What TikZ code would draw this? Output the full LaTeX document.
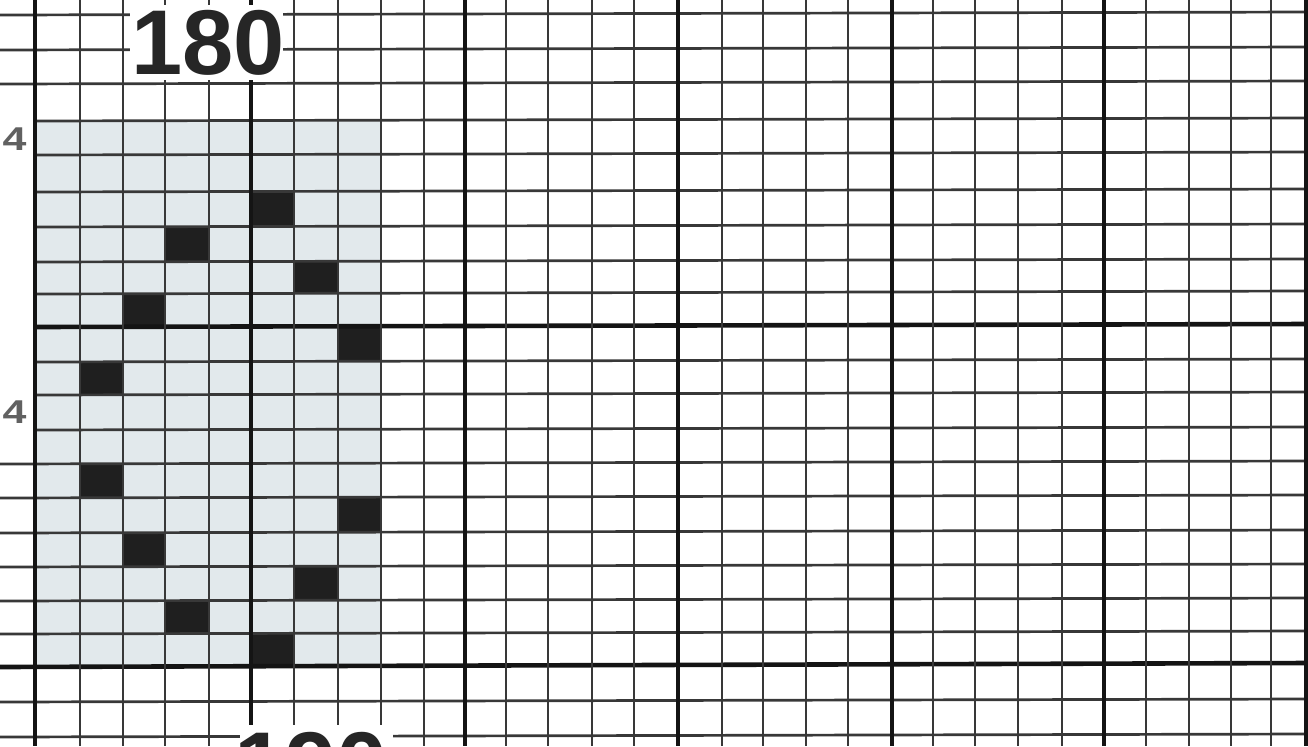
\documentclass[tikz,border=0pt]{standalone}
\usepackage{fontspec}
\setmainfont{Liberation Sans}
\definecolor{chartshade}{HTML}{E2E9EC}
\begin{document}
\begin{tikzpicture}[x=0.5pt,y=-0.5pt,
  thinline/.style={line width=1.35pt, draw=black!78},
  thickline/.style={line width=2.3pt, draw=black!92},
  stitch/.style={fill=black!88},
  shadebox/.style={fill=chartshade},
  numlabel/.style={font=\fontsize{46pt}{46pt}\selectfont\bfseries, text=black!85, inner sep=0pt, anchor=north},
  rowlabel/.style={font=\fontsize{16.5pt}{16.5pt}\selectfont\bfseries, text=black!62, inner sep=0pt, anchor=north east, transform shape, xscale=1.3},
]
\useasboundingbox (0,0) rectangle (1308,746);
\fill[white] (0,0) rectangle (1308,746);

% shaded motif area
\fill[shadebox] (35,121) rectangle (381,667);

% stitched (black) cells
\def\colx{{35,80,123,165,209,251,294,338,381}}
\def\rowy{{121,155,192,227,262,294,327,362,395,430,464,498,533,567,601,634,667}}
\foreach \c/\r in {5/2,3/3,6/4,2/5,7/6,1/7,1/10,7/11,2/12,6/13,3/14,5/15}{
  \pgfmathsetmacro\xa{\colx[\c]}
  \pgfmathsetmacro\xb{\colx[\c+1]}
  \pgfmathsetmacro\ya{\rowy[\r]}
  \pgfmathsetmacro\yb{\rowy[\r+1]}
  \fill[stitch] (\xa,\ya) rectangle (\xb,\yb);
}

% horizontal grid lines
\foreach \y in {15,50,84,464,498,533,567,601,634,702,737}
  \draw[thinline] (0,\y) -- (1308,{\y-3});
\foreach \y in {121,155,192,227,262,294,362,395,430}
  \draw[thinline] (35,\y) -- (1308,{\y-3});
\draw[thickline] (35,327) -- (1308,324);
\draw[thickline] (0,667) -- (1308,663);

% vertical grid lines
\foreach \x in {80,123,165,209,294,338,381,424,506,548,592,634,722,763,806,848,933,975,1018,1062,1146,1189,1231,1271}
  \draw[thinline] (\x,0) -- (\x,746);
\foreach \x in {35,251,465,678,892,1104,1306}
  \draw[thickline] (\x,0) -- (\x,746);

% white label boxes
\fill[white] (130,5) rectangle (283,80);
\fill[white] (240,725) rectangle (393,746);

% labels
\node[numlabel] (lbl180) at (208,10) {180};
\node[numlabel] (lbl190) at (311,732) {190};
\node[rowlabel] (row4a) at (27,127) {4};
\node[rowlabel] (row4b) at (27,400) {4};
\end{tikzpicture}
\end{document}
